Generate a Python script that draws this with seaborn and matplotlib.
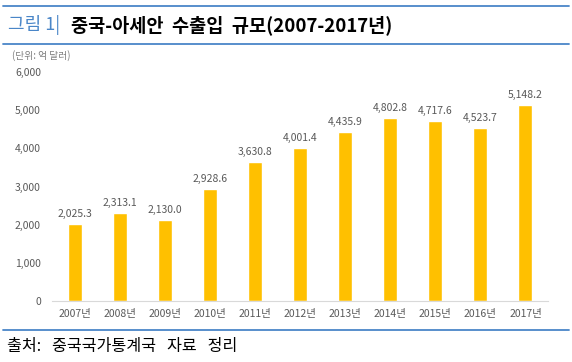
import matplotlib
matplotlib.use('Agg')
import matplotlib.pyplot as plt
from matplotlib.lines import Line2D
import pandas as pd
import seaborn as sns

years = ['2007년', '2008년', '2009년', '2010년', '2011년', '2012년',
         '2013년', '2014년', '2015년', '2016년', '2017년']
trade = [2025.3, 2313.1, 2130.0, 2928.6, 3630.8, 4001.4,
         4435.9, 4802.8, 4717.6, 4523.7, 5148.2]
yticks = [0, 1000, 2000, 3000, 4000, 5000, 6000]

bar_color = '#FFC000'
blue = '#4A86C8'
grey = '#595959'

sns.set_theme(style='white')
plt.rcParams['font.family'] = ['Noto Sans CJK KR', 'DejaVu Sans']

df = pd.DataFrame({'year': years, 'value': trade})

W, H = 572, 362
fig = plt.figure(figsize=(W / 100, H / 100), dpi=100)
ax = fig.add_axes([0.091, 0.1685, 0.867, 0.6325])
sns.barplot(data=df, x='year', y='value', color=bar_color, width=0.31,
            saturation=1, ax=ax)

ax.set_ylim(0, 6000)
ax.set_xlim(-0.5, len(years) - 0.5)
ax.set_yticks(yticks)
ax.set_yticklabels([f'{v:,}' for v in yticks], color=grey, fontsize=7.5)
ax.tick_params(axis='x', labelsize=7.5, colors=grey, length=0, pad=6)
ax.tick_params(axis='y', length=0, pad=8)
ax.set_xlabel('')
ax.set_ylabel('')
for s in ['top', 'right', 'left']:
    ax.spines[s].set_visible(False)
ax.spines['bottom'].set_color('#D9D9D9')
ax.spines['bottom'].set_linewidth(0.8)

for i, v in enumerate(trade):
    ax.text(i, v + 130, f'{v:,.1f}', ha='center', va='bottom',
            fontsize=7.5, color=grey)

# header / footer decorations
for y in [6, 44, 330]:
    fig.add_artist(Line2D([0.005, 0.995], [1 - y / H, 1 - y / H], color=blue,
                          lw=1.3, transform=fig.transFigure))


def px_text(x, y, s, **kw):
    fig.text(x / W, 1 - y / H, s, va='center', **kw)


px_text(8, 25, '그림 1|', color=blue, fontsize=13, fontweight='medium')
px_text(71, 25, '중국-아세안  수출입  규모(2007-2017년)', fontsize=13.4,
        fontweight='bold', color='black')
px_text(12, 56, '(단위: 억 달러)', color='#7F7F7F', fontsize=7)
px_text(7, 347, '출처:   중국국가통계국   자료   정리', fontsize=11.6,
        color='black')

plt.savefig('out.png', dpi=100)
